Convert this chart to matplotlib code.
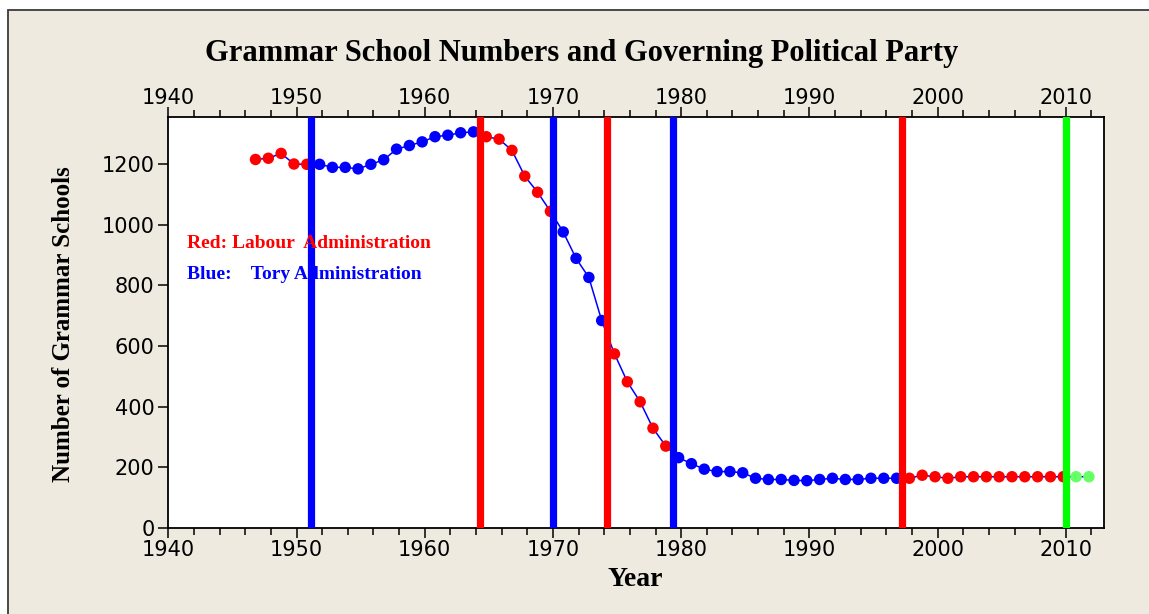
import numpy as np
import matplotlib
matplotlib.use("Agg")
import matplotlib.pyplot as plt
from matplotlib.patches import Rectangle
from matplotlib.ticker import MultipleLocator
from matplotlib.transforms import ScaledTranslation

# grammar school counts, one per year
years = list(range(1947, 2013))
schools = [1215, 1219, 1235, 1200, 1199,                      # 1947-51
           1199, 1189, 1189, 1184, 1199, 1214, 1249, 1261,    # 1952-59
           1273, 1290, 1295, 1303, 1306,                      # 1960-64
           1290, 1282, 1245, 1160, 1107, 1044,                # 1965-70
           976, 889, 826, 684,                                # 1971-74
           574, 482, 416, 329, 270,                           # 1975-79
           232, 212, 194, 186, 186, 182, 164, 160, 160, 157,  # 1980-89
           156, 160, 164, 160, 160, 164, 164, 164,            # 1990-97
           164, 174, 169, 164, 169, 169, 169, 169, 169, 169,  # 1998-2007
           169, 169, 169, 169, 169]                           # 2008-12
# party in power for each point
party = (['Lab'] * 5 + ['Con'] * 13 + ['Lab'] * 6 + ['Con'] * 4 +
         ['Lab'] * 5 + ['Con'] * 18 + ['Lab'] * 13 + ['Coal'] * 2)

# change of government lines
election_years = [1951.1, 1964.3, 1970.0, 1974.2, 1979.4, 1997.2, 2010.0]
election_party = ['Con', 'Lab', 'Con', 'Lab', 'Con', 'Lab', 'Coal']

line_col = {'Lab': '#ff0000', 'Con': '#0000ff', 'Coal': '#00ff00'}
dot_col = {'Lab': '#ff0000', 'Con': '#0000ff', 'Coal': '#66ff66'}

bg = '#eeeae0'

fig = plt.figure(figsize=(11.49, 6.14), dpi=100)
fig.patch.set_facecolor('white')
# beige panel with a dark edge on the left and top only
fig.add_artist(Rectangle((8 / 1149, -0.05), 1.1, 1 - 10 / 614 + 0.05,
                         transform=fig.transFigure, facecolor=bg,
                         edgecolor='#3a3a3a', linewidth=1.3, zorder=-10))

ax = fig.add_axes([168.3 / 1149, 1 - 528 / 614, 936 / 1149, 411 / 614])
ax.set_facecolor('white')

# the counts are drawn a little before each year tick in the original
xs = np.array(years) - 0.2
ax.plot(xs, schools, color='#0000ff', linewidth=1.1, zorder=2)
ax.scatter(xs, schools, c=[dot_col[p] for p in party], s=68,
           linewidths=0, zorder=3)

# lines sit on top of the dots
for xe, p in zip(election_years, election_party):
    ax.axvline(xe, color=line_col[p], linewidth=5.2, zorder=4)

ax.set_xlim(1940, 2013)
ax.set_ylim(0, 1355)
ax.xaxis.set_major_locator(MultipleLocator(10))
ax.xaxis.set_minor_locator(MultipleLocator(2))
ax.yaxis.set_major_locator(MultipleLocator(200))

ax.tick_params(axis='x', which='both', direction='out', top=True,
               labeltop=True, labelsize=15, pad=2)
ax.tick_params(axis='x', which='major', length=7, width=1.1)
ax.tick_params(axis='x', which='minor', length=5, width=1.1)
ax.tick_params(axis='y', direction='out', length=7, width=1.1,
               labelsize=15, pad=3)
for s in ax.spines.values():
    s.set_linewidth(1.3)

serif = 'Liberation Serif'
ax.text(0.02, 0.693, 'Red: Labour  Administration', color='#ff0000',
        fontsize=14, fontweight='bold', family=serif, va='center',
        transform=ax.transAxes, zorder=5)
ax.text(0.02, 0.617, 'Blue:    Tory Administration', color='#0000ff',
        fontsize=14, fontweight='bold', family=serif, va='center',
        transform=ax.transAxes, zorder=5)

fig.text(0.506, 1 - 54 / 614, 'Grammar School Numbers and Governing Political Party',
         ha='center', va='center', fontsize=22, fontweight='bold', family=serif)
fig.text(0.055, 0.472, 'Number of Grammar Schools', rotation=90,
         ha='center', va='center', fontsize=18, fontweight='bold', family=serif)
fig.text(635 / 1149, 1 - 580 / 614, 'Year', ha='center', va='center',
         fontsize=20, fontweight='bold', family=serif)

fig.canvas.draw()
# nudge the top labels down toward the axis
shift = ScaledTranslation(0, -4 / 100, fig.dpi_scale_trans)
for t in ax.xaxis.get_major_ticks():
    t.label2.set_transform(t.label2.get_transform() + shift)

fig.savefig('out.png', dpi=100, facecolor=fig.get_facecolor())
